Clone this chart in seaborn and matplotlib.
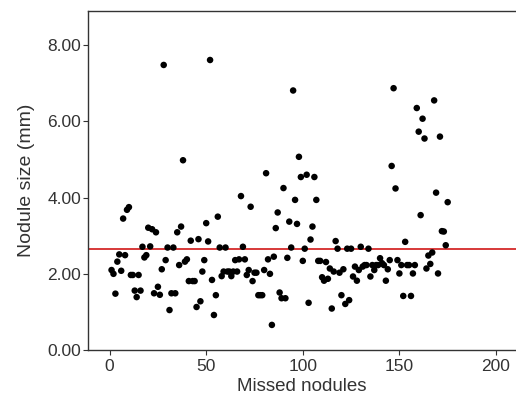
import numpy as np
import pandas as pd
import matplotlib
matplotlib.use("Agg")
import matplotlib.pyplot as plt
import seaborn as sns

# nodule sizes (mm), read in order of the missed-nodule index
sizes = [
    2.10, 2.00, 1.48, 2.32, 2.51, 2.08, 3.45, 2.49, 3.68, 3.75,
    1.97, 1.97, 1.56, 1.39, 1.97, 1.56, 2.71, 2.43, 2.49, 3.21,
    2.72, 3.17, 1.49, 3.09, 1.66, 1.45, 2.12, 7.48, 2.36, 2.69,
    1.05, 1.49, 2.69, 1.49, 3.09, 2.23, 3.24, 4.98, 2.32, 2.38,
    1.81, 2.87, 1.81, 1.81, 1.13, 2.91, 1.28, 2.06, 2.36, 3.33,
    2.85, 7.61, 1.84, 0.92, 1.44, 3.50, 2.69, 1.94, 2.06, 2.69,
    2.06, 2.06, 1.94, 2.06, 2.36, 2.06, 2.38, 4.04, 2.71, 2.38,
    1.97, 2.10, 3.76, 1.81, 2.03, 2.03, 1.44, 1.44, 1.44, 2.10,
    4.64, 2.38, 2.00, 0.66, 2.45, 3.20, 3.61, 1.51, 1.36, 4.25,
    1.36, 2.42, 3.37, 2.69, 6.81, 3.94, 3.31, 5.07, 4.54, 2.34,
    2.66, 4.60, 1.24, 2.90, 3.24, 4.54, 3.94, 2.34, 2.34, 1.91,
    1.82, 2.31, 1.87, 2.14, 1.09, 2.06, 2.86, 2.66, 2.03, 1.44,
    2.12, 1.21, 2.66, 1.31, 2.66, 1.93, 2.19, 1.82, 2.10, 2.71,
    2.19, 2.23, 2.23, 2.66, 1.93, 2.23, 2.10, 2.23, 2.23, 2.41,
    2.28, 2.23, 1.82, 2.12, 2.36, 4.83, 6.87, 4.24, 2.36, 2.01,
    2.23, 1.42, 2.84, 2.23, 2.23, 1.42, 2.01, 2.23, 6.35, 5.73,
    3.54, 6.07, 5.55, 2.14, 2.48, 2.26, 2.56, 6.55, 4.13, 2.01,
    5.60, 3.12, 3.11, 2.75, 3.88,
]
nodule_idx = list(range(1, len(sizes) + 1))
mean_size = 2.65

xticks = [0, 50, 100, 150, 200]
yticks = [0, 2, 4, 6, 8]
ytick_labels = ["0.00", "2.00", "4.00", "6.00", "8.00"]

df = pd.DataFrame({"nodule": nodule_idx, "size": sizes})

sns.set_style("white")
plt.rcParams["font.family"] = ["Liberation Sans", "DejaVu Sans"]

fig = plt.figure(figsize=(5.16, 4.01), dpi=100)
ax = fig.add_axes([0.1705, 0.127, 0.83, 0.846])

sns.scatterplot(data=df, x="nodule", y="size", color="black", s=22,
                edgecolor="none", ax=ax, zorder=3)
ax.axhline(mean_size, color="#d42a2a", linewidth=1.3, zorder=2)

ax.set_xlim(-11.2, 210.5)
ax.set_ylim(0, 8.9)
ax.set_xticks(xticks)
ax.set_yticks(yticks)
ax.set_yticklabels(ytick_labels)
ax.set_xlabel("Missed nodules", fontsize=13.5, color="#333333", labelpad=3)
ax.set_ylabel("Nodule size (mm)", fontsize=14, color="#333333", labelpad=9)

for side in ["left", "bottom", "top"]:
    ax.spines[side].set_color("#333333")
    ax.spines[side].set_linewidth(1.0)
ax.spines["right"].set_visible(False)
ax.tick_params(axis="both", which="both", direction="out", length=3.5,
               width=0.8, color="#333333", labelsize=12.5,
               labelcolor="#333333", pad=1.5,
               bottom=True, left=True)
ax.tick_params(axis="x", pad=3)

fig.savefig("out.png", dpi=100)
